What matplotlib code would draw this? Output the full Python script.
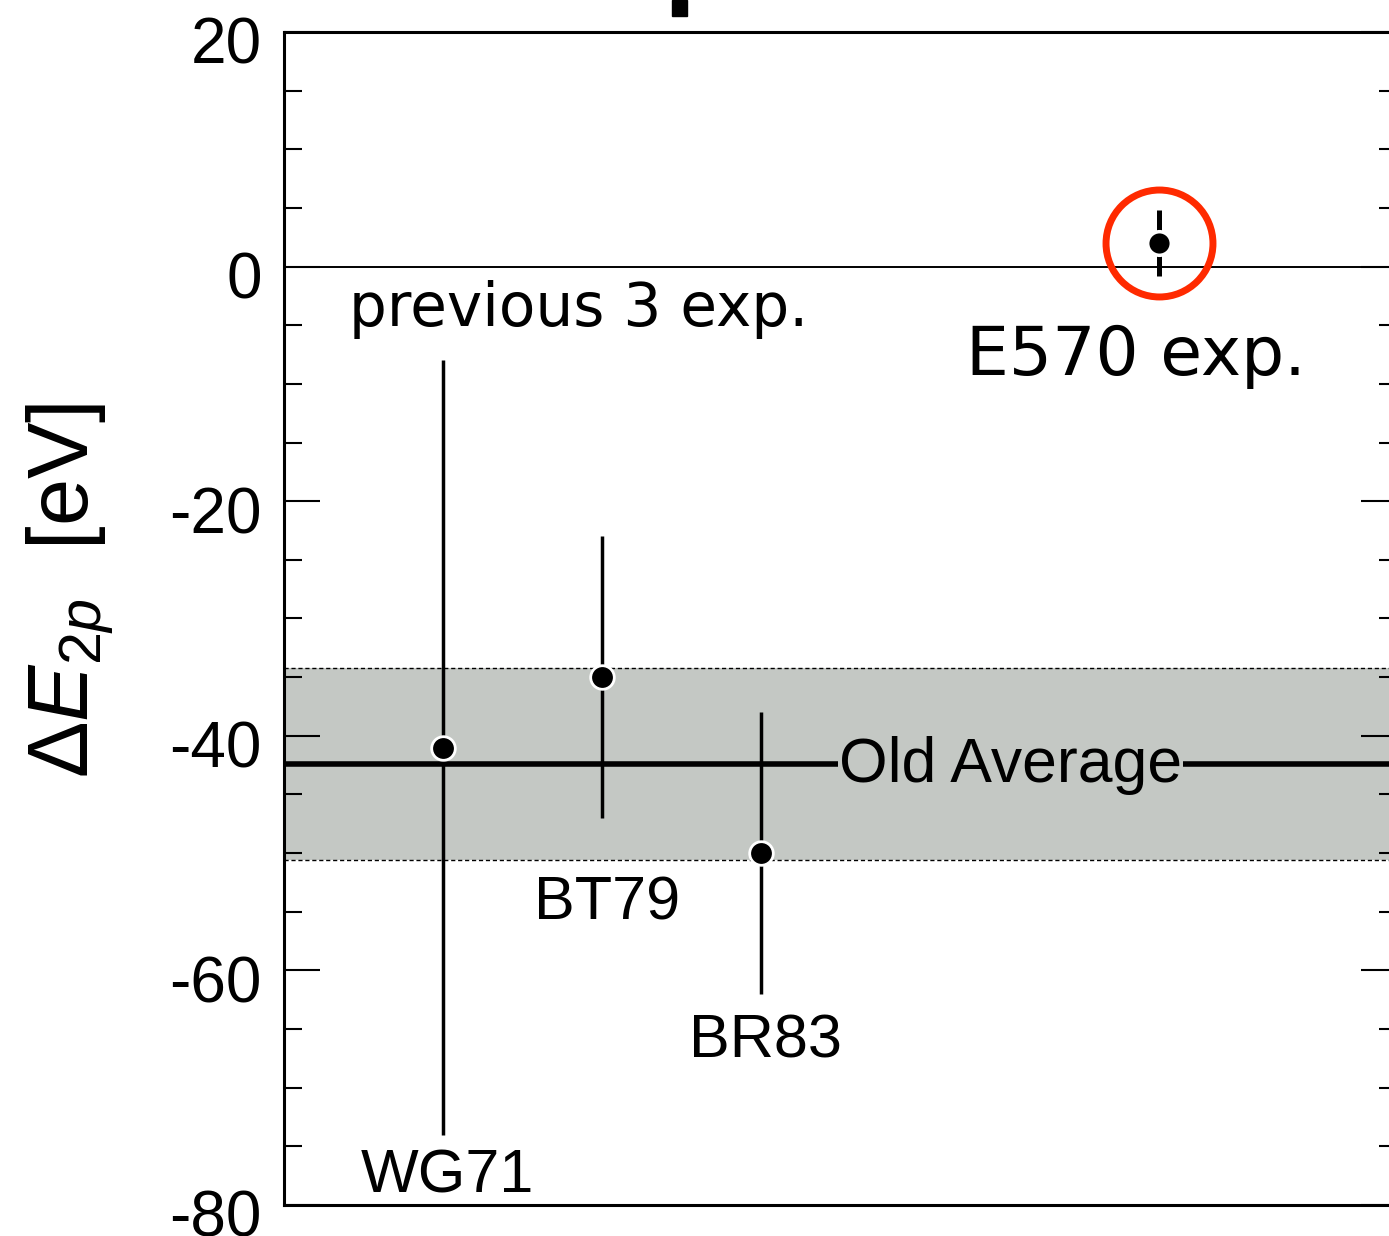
import numpy as np
import matplotlib.pyplot as plt
import matplotlib.transforms as mtransforms
from matplotlib.patches import Rectangle
from matplotlib.ticker import MultipleLocator

plt.rcParams['font.family'] = ['Liberation Sans', 'DejaVu Sans']
plt.rcParams['mathtext.fontset'] = 'custom'
plt.rcParams['mathtext.rm'] = 'Liberation Sans'
plt.rcParams['mathtext.it'] = 'Liberation Sans:italic'
plt.rcParams['axes.unicode_minus'] = False

# previous experiments
prev_names = ['WG71', 'BT79', 'BR83']
prev_x = [1, 2, 3]
prev_val = [-41.0, -35.0, -50.0]
prev_err = [33.0, 12.0, 12.0]

# this experiment
new_x = 5.5
new_val = 2.0
new_err = 2.8

# old average band
avg_val = -42.4
avg_lo = -50.6
avg_hi = -34.2

fig = plt.figure(figsize=(13.89, 12.36), dpi=100)
ax = fig.add_axes([0.2045, 0.0251, 0.8013, 0.949])

ax.axhspan(avg_lo, avg_hi, color='#c4c8c4', lw=0, zorder=0)
ax.axhline(avg_lo, color='black', lw=1.0, ls=(0, (3, 2)), zorder=1)
ax.axhline(avg_hi, color='black', lw=1.0, ls=(0, (3, 2)), zorder=1)
ax.axhline(avg_val, color='black', lw=4.0, zorder=2)
ax.axhline(0, color='black', lw=1.4, zorder=1)

ax.errorbar(prev_x, prev_val, yerr=prev_err, fmt='o', color='black',
            elinewidth=2.5, capsize=0, ms=17, mfc='black', mec='white', mew=2, zorder=3)
ax.errorbar([new_x], [new_val], yerr=[new_err], fmt='o', color='black',
            elinewidth=3.6, capsize=0, ms=17, mfc='black', mec='white', mew=2.5, zorder=3)
ax.plot([new_x], [new_val], 'o', ms=77, mfc='none', mec='#ff2a00', mew=5, zorder=4)

ax.text(4.57, -43.9, 'Old Average', fontsize=45, ha='center', va='baseline', zorder=5,
        bbox=dict(facecolor='#c4c8c4', edgecolor='none', pad=1))
ax.text(1.855, -5.1, 'previous 3 exp.', fontsize=43, ha='center', va='baseline',
        family='DejaVu Sans')
ax.text(5.36, -9.2, 'E570 exp.', fontsize=49, ha='center', va='baseline',
        family='DejaVu Sans')

label_y = [-78.9, -55.7, -67.4]
for name, x, ly in zip(prev_names, prev_x, label_y):
    ax.text(x + 0.03, ly, name, fontsize=44, ha='center', va='baseline')

ax.set_xlim(0, 7)
ax.set_ylim(-80, 20)
ax.set_xticks([])
ax.yaxis.set_major_locator(MultipleLocator(20))
ax.yaxis.set_minor_locator(MultipleLocator(5))
ax.tick_params(axis='y', which='both', direction='in', left=True, right=True, width=1.5)
ax.tick_params(axis='y', which='major', length=26, labelsize=46, pad=16)
ax.tick_params(axis='y', which='minor', length=13)
for s in ax.spines.values():
    s.set_linewidth(2.2)

# tick labels sit a little below their ticks in the original
shift = mtransforms.ScaledTranslation(0, -6 / 72, fig.dpi_scale_trans)
for lab in ax.get_yticklabels():
    lab.set_transform(lab.get_transform() + shift)

ax.set_ylabel(r'$\Delta E_{\mathit{2p}}$  [eV]', fontsize=61)
ax.yaxis.set_label_coords(-0.152, 0.524)

fig.add_artist(Rectangle((672 / 1389, 1 - 16 / 1236), 15 / 1389, 16 / 1236,
                         transform=fig.transFigure, color='black'))

fig.savefig('out.png', dpi=100)
